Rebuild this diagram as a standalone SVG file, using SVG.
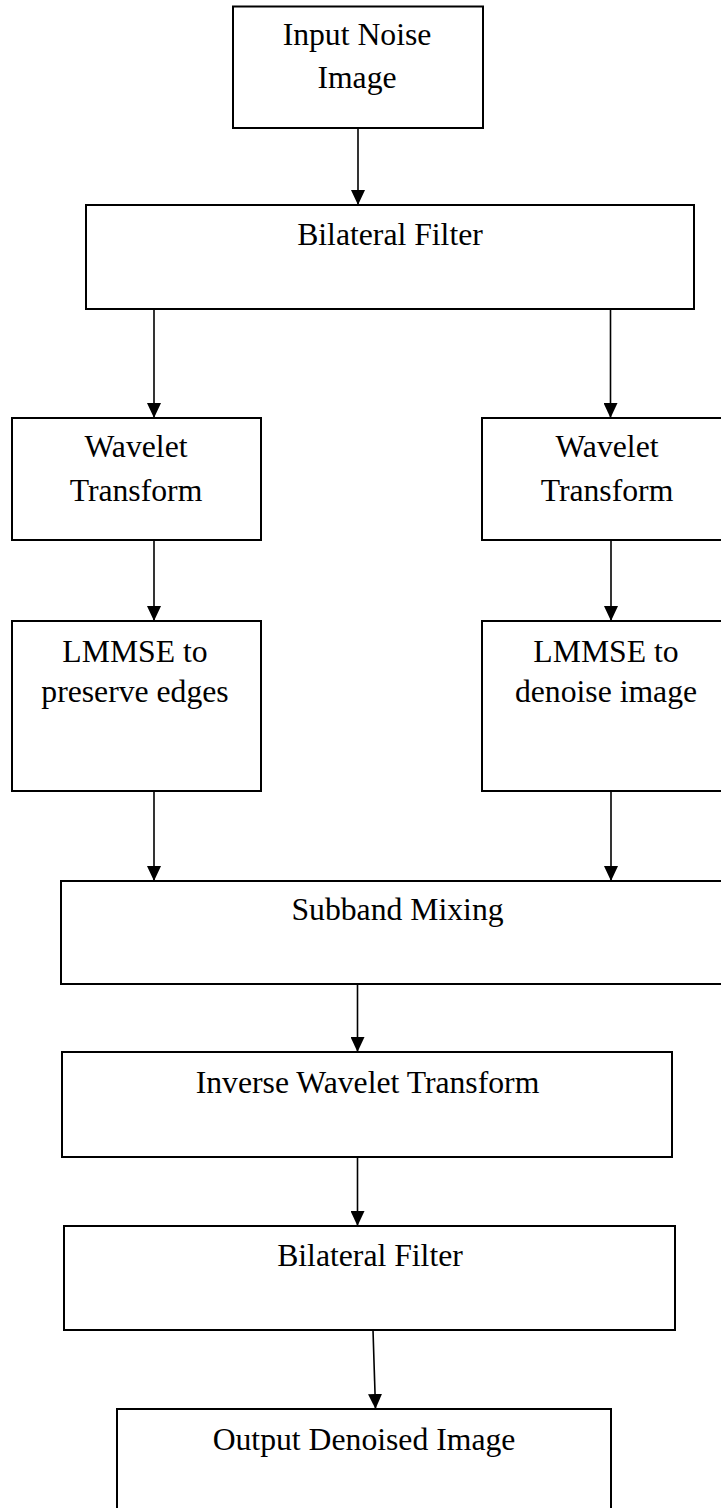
<svg xmlns="http://www.w3.org/2000/svg" width="721" height="1508" viewBox="0 0 721 1508">
  <style>
    .box { fill: #ffffff; stroke: #000000; stroke-width: 2; }
    .lbl { font-family: "Liberation Serif", "Times New Roman", serif; font-size: 31.7px; fill: #000000; text-anchor: middle; }
    .edge { stroke: #000000; stroke-width: 1.6; fill: none; marker-end: url(#arrow); }
  </style>
  <defs>
    <marker id="arrow" viewBox="0 0 15 14" refX="15" refY="7" markerWidth="15" markerHeight="14" markerUnits="userSpaceOnUse" orient="auto">
      <path d="M0,0 L15,7 L0,14 Z" fill="#000000"/>
    </marker>
  </defs>
  <rect width="721" height="1508" fill="#ffffff"/>

  <g id="input">
    <rect class="box" x="233" y="6.5" width="250" height="121.5"/>
    <text class="lbl" x="357" y="45">Input Noise</text>
    <text class="lbl" x="357" y="88">Image</text>
  </g>

  <g id="bilateral1">
    <rect class="box" x="86" y="205" width="608" height="104"/>
    <text class="lbl" x="390" y="245">Bilateral Filter</text>
  </g>

  <g id="wavelet-left">
    <rect class="box" x="12" y="418" width="249" height="122"/>
    <text class="lbl" x="136" y="457">Wavelet</text>
    <text class="lbl" x="136" y="501">Transform</text>
  </g>

  <g id="wavelet-right">
    <rect class="box" x="482" y="418" width="250" height="122"/>
    <text class="lbl" x="607" y="457">Wavelet</text>
    <text class="lbl" x="607" y="501">Transform</text>
  </g>

  <g id="lmmse-left">
    <rect class="box" x="12" y="621" width="249" height="170"/>
    <text class="lbl" x="135" y="662">LMMSE to</text>
    <text class="lbl" x="135" y="702">preserve edges</text>
  </g>

  <g id="lmmse-right">
    <rect class="box" x="482" y="621" width="250" height="170"/>
    <text class="lbl" x="606" y="662">LMMSE to</text>
    <text class="lbl" x="606" y="702">denoise image</text>
  </g>

  <g id="subband">
    <rect class="box" x="61" y="881" width="674" height="103"/>
    <text class="lbl" x="397.5" y="920">Subband Mixing</text>
  </g>

  <g id="inverse">
    <rect class="box" x="62" y="1052" width="610" height="105"/>
    <text class="lbl" x="367.5" y="1093">Inverse Wavelet Transform</text>
  </g>

  <g id="bilateral2">
    <rect class="box" x="64" y="1226" width="611" height="104"/>
    <text class="lbl" x="370" y="1266">Bilateral Filter</text>
  </g>

  <g id="output">
    <rect class="box" x="117" y="1409" width="494" height="115"/>
    <text class="lbl" x="364" y="1450">Output Denoised Image</text>
  </g>

  <g id="connectors">
    <line class="edge" x1="358" y1="128" x2="358" y2="205"/>
    <line class="edge" x1="154" y1="309" x2="154" y2="418"/>
    <line class="edge" x1="610.5" y1="309" x2="610.5" y2="418"/>
    <line class="edge" x1="154" y1="540" x2="154" y2="621"/>
    <line class="edge" x1="611" y1="540" x2="611" y2="621"/>
    <line class="edge" x1="154" y1="791" x2="154" y2="881"/>
    <line class="edge" x1="611" y1="791" x2="611" y2="881"/>
    <line class="edge" x1="357.5" y1="984" x2="357.5" y2="1052"/>
    <line class="edge" x1="357.5" y1="1157" x2="357.5" y2="1226"/>
    <line class="edge" x1="373" y1="1330" x2="375.5" y2="1409"/>
  </g>
</svg>
